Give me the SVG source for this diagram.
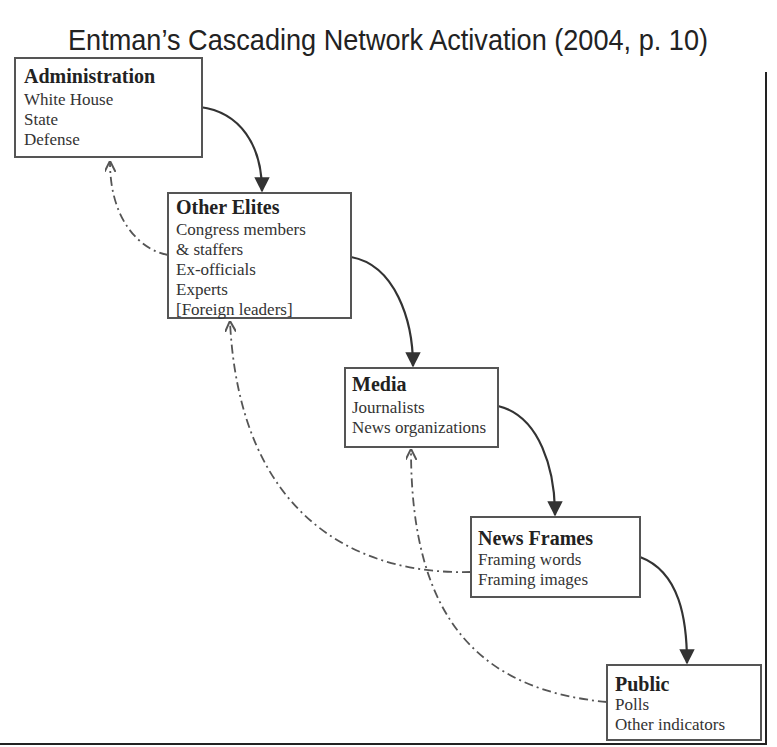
<svg xmlns="http://www.w3.org/2000/svg" width="777" height="747" viewBox="0 0 777 747">
<style>
.box{fill:#fff;stroke:#555;stroke-width:2}
.h{font-family:"Liberation Serif",serif;font-weight:bold;font-size:20px;fill:#222}
.t{font-family:"Liberation Serif",serif;font-size:17px;fill:#333}
.solid{fill:none;stroke:#333;stroke-width:2.2}
.dash{fill:none;stroke:#555;stroke-width:1.8;stroke-dasharray:9 4 2 4}
</style>
<defs>
<marker id="ah" viewBox="0 0 10 10" refX="9" refY="5" markerWidth="7" markerHeight="7" orient="auto-start-reverse"><path d="M0,0 L10,5 L0,10 z" fill="#333"/></marker>
<marker id="oh" viewBox="0 0 10 10" refX="9" refY="5" markerWidth="11" markerHeight="11" orient="auto" markerUnits="userSpaceOnUse"><path d="M0,0 L10,5 L0,10" fill="none" stroke="#555" stroke-width="1.8"/></marker>
</defs>
<rect width="777" height="747" fill="#fff"/>
<text x="388" y="50" text-anchor="middle" font-family="Liberation Sans,sans-serif" font-size="30" textLength="640" lengthAdjust="spacingAndGlyphs" fill="#222">Entman’s Cascading Network Activation (2004, p. 10)</text>
<path d="M766,72 V744 H0" fill="none" stroke="#222" stroke-width="2"/>
<g id="connectors">
<path class="solid" d="M200,107 C240,112 262,145 262,191" marker-end="url(#ah)"/>
<path class="solid" d="M351,257 C395,265 413,320 413,366" marker-end="url(#ah)"/>
<path class="solid" d="M498,406 C540,416 555,470 555,515" marker-end="url(#ah)"/>
<path class="solid" d="M640,557 C680,572 687,620 687,663" marker-end="url(#ah)"/>
<path class="dash" d="M168,255 C140,250 110,220 110,162" marker-end="url(#oh)"/>
<path class="dash" d="M471,572 C360,575 240,520 230,322" marker-end="url(#oh)"/>
<path class="dash" d="M607,702 C480,690 411,620 411,450" marker-end="url(#oh)"/>
</g>
<g id="administration"><rect class="box" x="15" y="58" width="187" height="99"/>
<text class="h" x="24" y="83">Administration</text><text class="t" x="24" y="105">White House</text><text class="t" x="24" y="125">State</text><text class="t" x="24" y="145">Defense</text></g>
<g id="elites"><rect class="box" x="168" y="193" width="183" height="125"/>
<text class="h" x="176" y="214">Other Elites</text><text class="t" x="176" y="235">Congress members</text><text class="t" x="176" y="255">&amp; staffers</text><text class="t" x="176" y="275">Ex-officials</text><text class="t" x="176" y="295">Experts</text><text class="t" x="176" y="315">[Foreign leaders]</text></g>
<g id="media"><rect class="box" x="345" y="368" width="153" height="79"/>
<text class="h" x="352" y="391">Media</text><text class="t" x="352" y="413">Journalists</text><text class="t" x="352" y="433">News organizations</text></g>
<g id="newsframes"><rect class="box" x="471" y="517" width="169" height="80"/>
<text class="h" x="478" y="545">News Frames</text><text class="t" x="478" y="565">Framing words</text><text class="t" x="478" y="585">Framing images</text></g>
<g id="public"><rect class="box" x="607" y="665" width="154" height="75"/>
<text class="h" x="615" y="691">Public</text><text class="t" x="615" y="710">Polls</text><text class="t" x="615" y="730">Other indicators</text></g>
</svg>
